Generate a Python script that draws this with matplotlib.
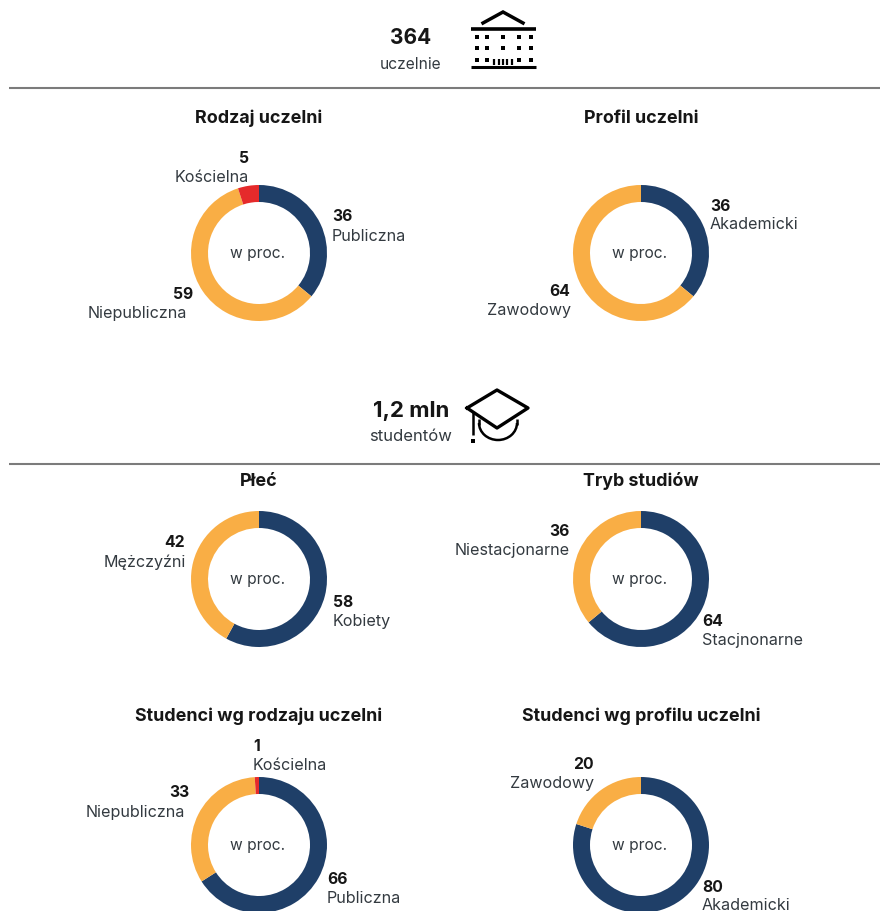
import matplotlib
matplotlib.use('Agg')
import matplotlib.pyplot as plt
from matplotlib.patches import Arc

plt.rcParams['font.family'] = ['Inter', 'DejaVu Sans']

W, H = 880, 912
navy = '#1f3f68'
orange = '#f9ae45'
red = '#e52a2b'
dark = '#161616'
soft = '#333a40'

titles = ['Rodzaj uczelni', 'Profil uczelni', 'Płeć', 'Tryb studiów',
          'Studenci wg rodzaju uczelni', 'Studenci wg profilu uczelni']
values = [[36, 59, 5], [36, 64], [58, 42], [64, 36], [66, 33, 1], [80, 20]]
names = [['Publiczna', 'Niepubliczna', 'Kościelna'],
         ['Akademicki', 'Zawodowy'],
         ['Kobiety', 'Mężczyźni'],
         ['Stacjnonarne', 'Niestacjonarne'],
         ['Publiczna', 'Niepubliczna', 'Kościelna'],
         ['Akademicki', 'Zawodowy']]
colours = [navy, orange, red]

# layout in pixels: donut centres, title y, and per-slice label anchors
centres = [(259, 254), (641, 254), (259, 580), (641, 580), (259, 846), (641, 846)]
title_y = [118.5, 118.5, 481.5, 481.5, 716.5, 716.5]
# (number x, number y, name x, name y, ha)
anchors = [
    [(332, 216.5, 332, 236.5, 'left'), (193, 294.5, 187, 313.5, 'right'), (249, 158.5, 249, 177.5, 'right')],
    [(710, 206.5, 710, 224.5, 'left'), (570, 291.5, 571, 310.5, 'right')],
    [(333, 602.5, 333, 621.5, 'left'), (185, 542.5, 186, 562.5, 'right')],
    [(702, 621.5, 702, 640.5, 'left'), (570, 531.5, 570, 550.5, 'right')],
    [(327, 879.5, 327, 898.5, 'left'), (190, 792.5, 185, 812.5, 'right'), (253, 746.5, 253, 765.5, 'left')],
    [(702, 887.5, 702, 905.5, 'left'), (594, 764.5, 594, 783.5, 'right')],
]
R = 68
hole = 17 / 68

fig = plt.figure(figsize=(W / 100, H / 100), dpi=100)

# overlay in pixel coordinates for text, rules and the two icons
ov = fig.add_axes([0, 0, 1, 1], zorder=3)
ov.set_xlim(0, W)
ov.set_ylim(H, 0)
ov.axis('off')
ov.patch.set_alpha(0)

for i, vals in enumerate(values):
    cx, cy = centres[i]
    ax = fig.add_axes([(cx - R) / W, 1 - (cy + R) / H, 2 * R / W, 2 * R / H])
    ax.pie(vals, colors=colours[:len(vals)], startangle=90, counterclock=False,
           radius=1, wedgeprops={'width': hole, 'linewidth': 0})
    ax.set_xlim(-1, 1)
    ax.set_ylim(-1, 1)
    ov.text(cx - 1.5, cy, 'w proc.', ha='center', va='center', fontsize=11.2, color=soft)
    ov.text(cx, title_y[i], titles[i], ha='center', va='center', fontsize=12.9,
            fontweight='bold', color=dark)
    for v, n, (nx, ny, lx, ly, ha) in zip(vals, names[i], anchors[i]):
        ov.text(nx, ny, str(v), ha=ha, va='center', fontsize=11.3, fontweight='bold', color=dark)
        ov.text(lx, ly, n, ha=ha, va='center', fontsize=11.6, color=soft)

# section rules
for y in [88.5, 464.5]:
    ov.plot([9, 880], [y, y], color='#7b7b7b', lw=1.5, solid_capstyle='butt')

# section headers
ov.text(411, 38.5, '364', ha='center', va='center', fontsize=15, fontweight='bold', color=dark)
ov.text(411, 64.5, 'uczelnie', ha='center', va='center', fontsize=11.2, color=soft)
ov.text(411, 411.5, '1,2 mln', ha='center', va='center', fontsize=16, fontweight='bold', color=dark)
ov.text(411, 436.5, 'studentów', ha='center', va='center', fontsize=12, color=soft)

# building icon
k = 'black'
ov.plot([483, 503, 523], [24, 13, 24], color=k, lw=2.5, solid_joinstyle='miter')
ov.plot([471, 536], [29.5, 29.5], color=k, lw=2.6, solid_capstyle='butt')
ov.plot([471, 536], [68, 68], color=k, lw=2.2, solid_capstyle='butt')
for y in [38, 49]:
    ov.plot([477, 487, 503, 519, 531], [y] * 5, 's', color=k, ms=3, mew=0)
ov.plot([477, 487, 519, 531], [61] * 4, 's', color=k, ms=3, mew=0)
for x in [494, 499, 503, 507, 512]:
    ov.plot([x, x], [60, 66], color=k, lw=1.6, solid_capstyle='butt')

# graduation cap icon
ov.plot([467, 497, 528, 497, 467], [409, 391, 409, 429, 409], color=k, lw=2.4,
        solid_joinstyle='round')
ov.plot([473, 473], [413, 436], color=k, lw=1.8, solid_capstyle='butt')
ov.plot([473], [442], 's', color=k, ms=3, mew=0)
ov.plot([479, 479], [420, 426], color=k, lw=1.8, solid_capstyle='butt')
ov.plot([517, 517], [420, 426], color=k, lw=1.8, solid_capstyle='butt')
ov.add_patch(Arc((498, 424), 38, 34, theta1=0, theta2=180, color=k, lw=1.8))

fig.savefig('out.png', dpi=100, facecolor='white')
